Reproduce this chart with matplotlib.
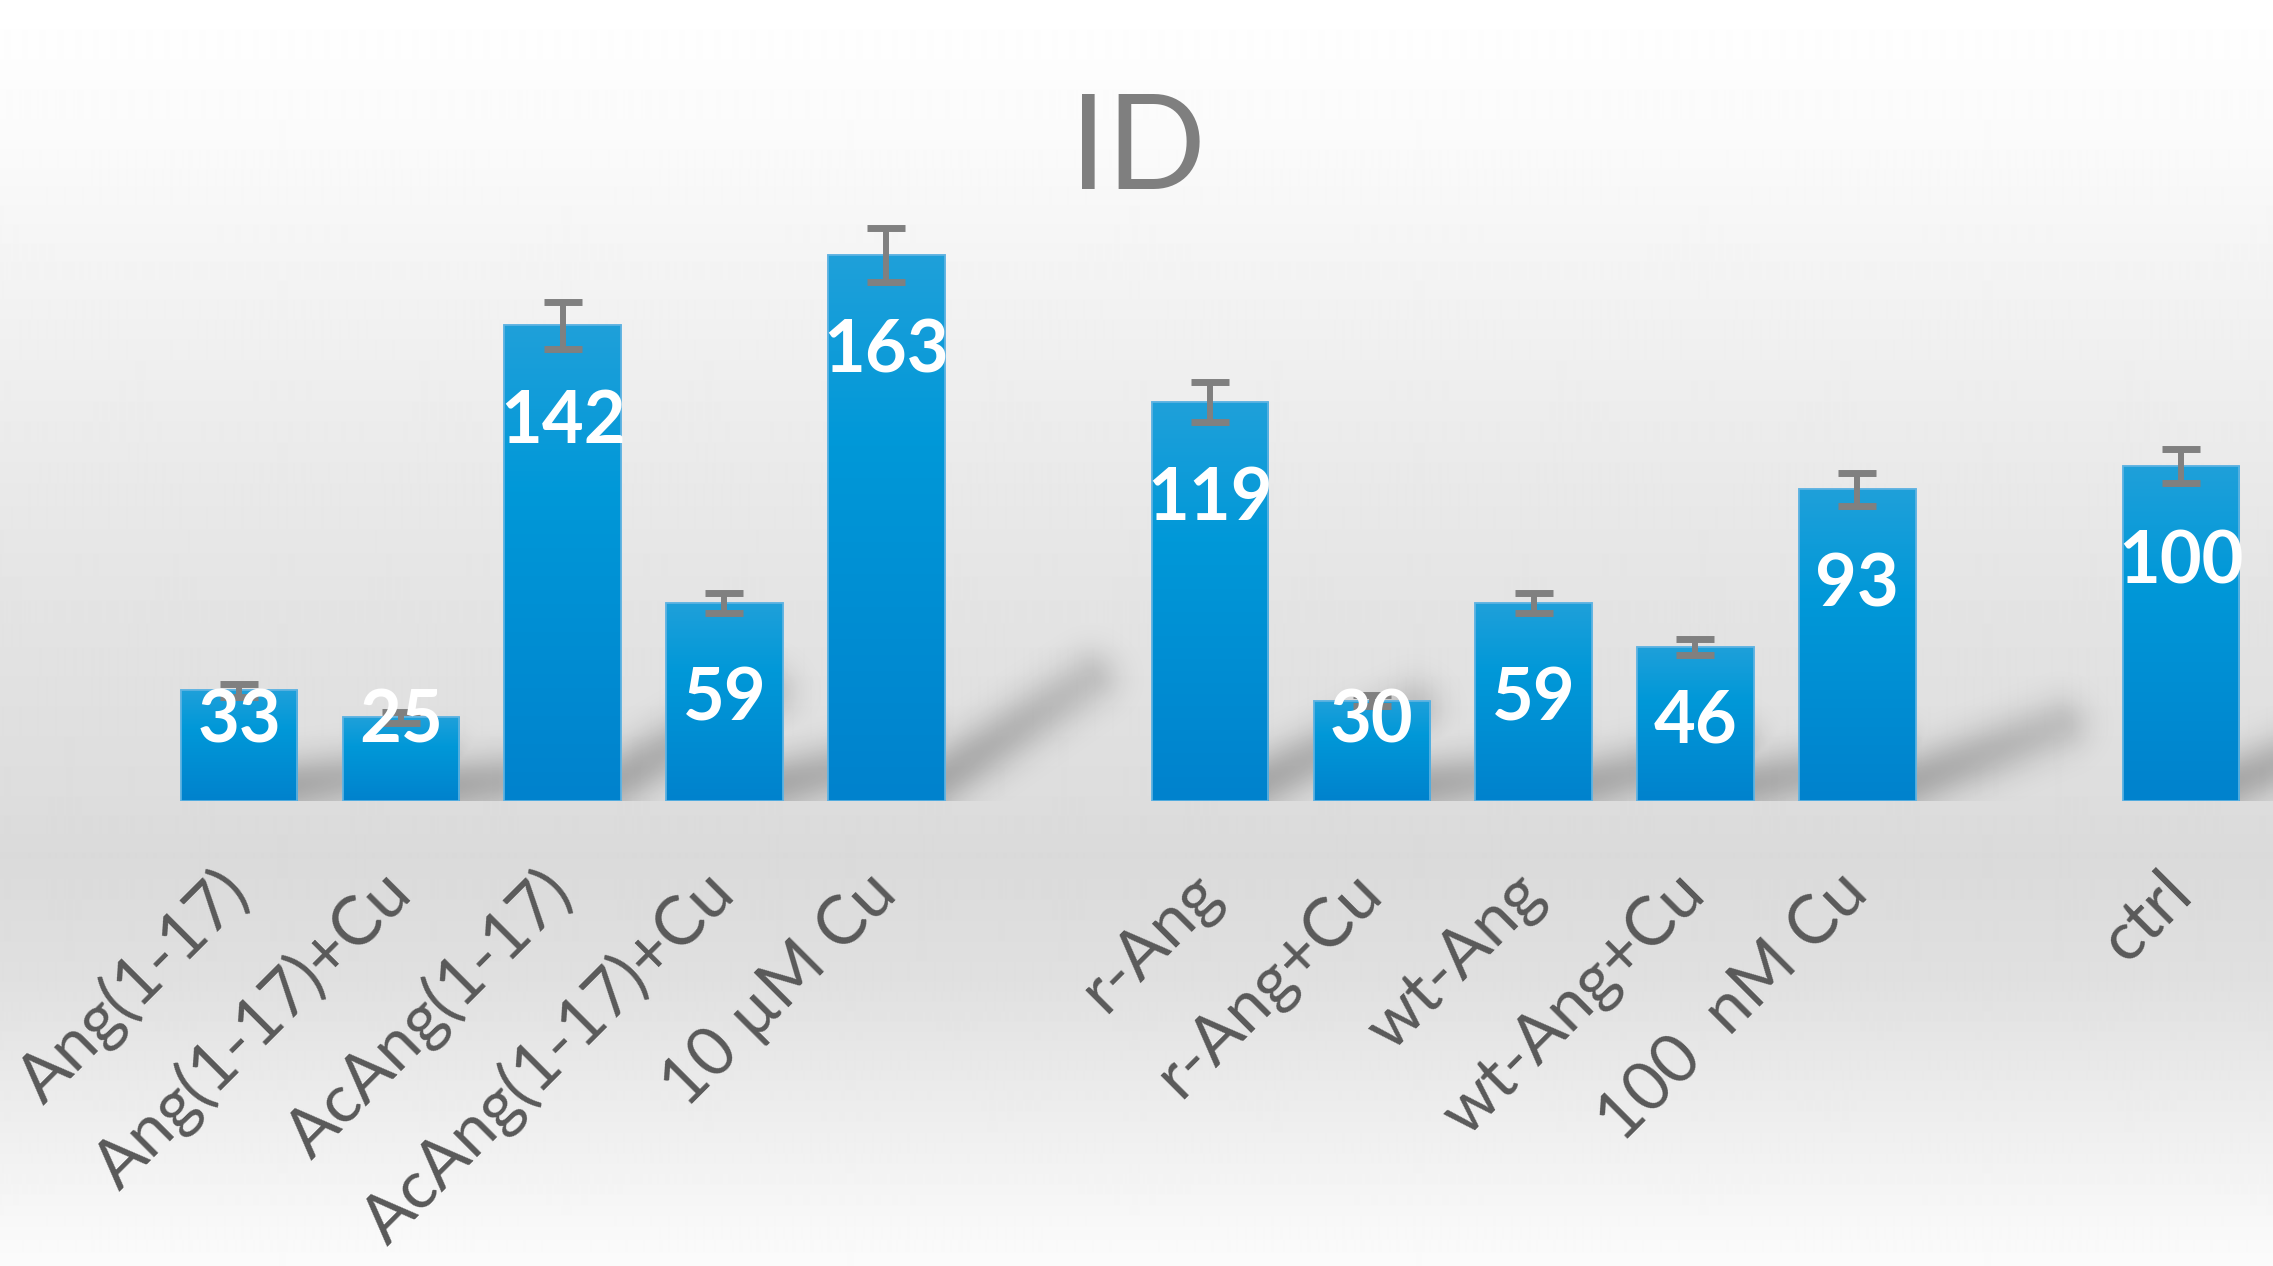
import numpy as np
import matplotlib
matplotlib.use("Agg")
import matplotlib.pyplot as plt

# data
labels = ["Ang(1-17)", "Ang(1-17)+Cu", "AcAng(1-17)", "AcAng(1-17)+Cu", "10 µM Cu",
          "r-Ang", "r-Ang+Cu", "wt-Ang", "wt-Ang+Cu", "100  nM Cu",
          "ctrl"]
values = [33, 25, 142, 59, 163, 119, 30, 59, 46, 93, 100]
errors = [2.0, 1.7, 7.0, 3.0, 8.0, 6.0, 1.7, 3.0, 2.4, 4.8, 5.0]
group_sizes = [5, 5, 1]

W, H, DPI = 2273, 1266, 100

# bar slots: groups separated by one empty slot
pos = []
start = 0
for g in group_sizes:
    pos += list(range(start, start + g))
    start += g + 1
pos = np.array(pos, dtype=float)

fig = plt.figure(figsize=(W / DPI, H / DPI), dpi=DPI)

# background gradient (white -> grey floor -> white)
bg = fig.add_axes([0, 0, 1, 1], zorder=-5)
stops_y = [0, 150, 300, 485, 650, 800, 855, 980, 1100, 1226, 1266]
stops_g = [255, 250, 242, 233, 226, 221, 218, 224, 236, 248, 251]
gy = np.interp(np.arange(H), stops_y, stops_g) / 255.0
bg.imshow(np.repeat(gy[:, None], 4, axis=1), cmap="gray", vmin=0, vmax=1,
          aspect="auto", extent=(0, 1, 0, 1), interpolation="bilinear")
bg.set_axis_off()

base_px = 801
ymax = 200
ax = fig.add_axes([0, (H - base_px) / H, 1, 670 / H], zorder=1)
ax.patch.set_alpha(0)
xlim = (-1.477, 12.569)
px_x = W / (xlim[1] - xlim[0])
px_y = 670 / ymax

width = 0.72

# soft diagonal shadows behind the bars
sx = np.linspace(xlim[0], xlim[1], 900)
sy = np.linspace(0, 80, 300)
XX, YY = np.meshgrid(sx, sy)
alpha = np.zeros_like(XX)
for x, v in zip(pos, values):
    p0 = np.array([(x + width / 2 - 0.1) * px_x, 4 * px_y])
    p1 = np.array([(x + width / 2 + 0.9) * px_x, (4 + 0.2 * v) * px_y])
    d = p1 - p0
    qx, qy = XX * px_x - p0[0], YY * px_y - p0[1]
    t = np.clip((qx * d[0] + qy * d[1]) / (d @ d), 0, 1)
    dist2 = (qx - t * d[0]) ** 2 + (qy - t * d[1]) ** 2
    a = 0.25 * np.exp(-dist2 / (2 * 20.0 ** 2)) * (1 - 0.4 * t)
    alpha = np.maximum(alpha, a)
shadow = np.zeros(XX.shape + (4,))
shadow[..., 3] = alpha
ax.imshow(shadow, origin="lower", extent=(xlim[0], xlim[1], 0, 80),
          aspect="auto", zorder=1, interpolation="bilinear")

# bars with vertical gradient
bars = ax.bar(pos, values, width=width, color="#0090d4",
              edgecolor="#62b4e2", linewidth=1.2, zorder=2)
top_c = np.array([0x1f, 0xa0, 0xda]) / 255
mid_c = np.array([0x00, 0x98, 0xd8]) / 255
bot_c = np.array([0x00, 0x82, 0xcd]) / 255
tt = np.linspace(0, 1, 200)[:, None]
grad = np.where(tt < 0.35,
                top_c + (mid_c - top_c) * (tt / 0.35),
                mid_c + (bot_c - mid_c) * ((tt - 0.35) / 0.65))
grad = grad[:, None, :].repeat(2, axis=1)
for b in bars:
    x0, h = b.get_x(), b.get_height()
    im = ax.imshow(grad, extent=(x0, x0 + b.get_width(), 0, h), origin="upper",
                   aspect="auto", zorder=2.1, interpolation="bilinear")
    im.set_clip_path(b)
    ax.bar(b.get_x() + b.get_width() / 2, h, width=b.get_width(), color="none",
           edgecolor="#62b4e2", linewidth=1.2, zorder=2.2)

ax.errorbar(pos, values, yerr=errors, fmt="none", ecolor="#808080",
            elinewidth=4.3, capsize=14, capthick=5, zorder=3)

for x, v in zip(pos, values):
    ax.text(x, max(v - 35, 17.6), str(v), ha="center", va="baseline",
            color="white", fontsize=52, fontweight="bold", family="Lato", zorder=4)

ax.set_xlim(*xlim)
ax.set_ylim(0, ymax)
ax.set_xticks(pos)
ax.set_xticklabels(labels, rotation=45, ha="right", va="center",
                   rotation_mode="anchor", family="Lato", fontsize=48.5,
                   color="#595959")
ax.tick_params(axis="x", length=0, pad=59)
ax.set_yticks([])
for s in ax.spines.values():
    s.set_visible(False)

fig.text(1138 / W, 1 - 189 / H, "ID", ha="center", va="baseline",
         fontsize=94, color="#7f7f7f", family="Lato")

fig.savefig("out.png", dpi=DPI)
